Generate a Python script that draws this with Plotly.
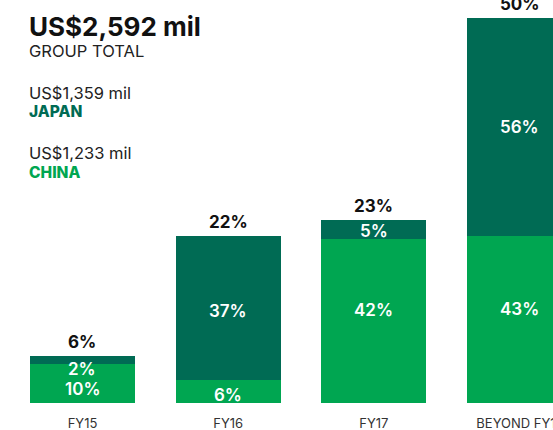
import plotly.graph_objects as go

categories = ["FY15", "FY16", "FY17", "BEYOND FY17"]
china_values = [39, 23, 164, 167]
japan_values = [8, 144, 19, 218]
china_labels = ["10%", "6%", "42%", "43%"]
japan_labels = ["2%", "37%", "5%", "56%"]
total_labels = ["6%", "22%", "23%", "50%"]

group_total = "US$2,592 mil"
japan_total = "US$1,359 mil"
china_total = "US$1,233 mil"

DARK = "#006B54"
LIGHT = "#00A651"
FONT = "Inter"

W, H = 553, 430
PLOT_H = 403

fig = go.Figure()
fig.add_trace(go.Bar(x=list(range(len(categories))), y=china_values, marker=dict(color=LIGHT, line=dict(width=0)),
                     name="China", hoverinfo="skip"))
fig.add_trace(go.Bar(x=list(range(len(categories))), y=japan_values, marker=dict(color=DARK, line=dict(width=0)),
                     name="Japan", hoverinfo="skip"))

ann = []
# per-label vertical nudges (pixels) to match original label placement
china_shift = [-5, -3, 11, 11]
japan_shift = [-9, -3, -1, 0]
for i in range(len(categories)):
    c, j = china_values[i], japan_values[i]
    ann.append(dict(x=i, y=c / 2, text=china_labels[i], showarrow=False, yshift=china_shift[i],
                    font=dict(family=FONT, size=17, color="white", weight=600)))
    ann.append(dict(x=i, y=c + j / 2, text=japan_labels[i], showarrow=False, yshift=japan_shift[i],
                    font=dict(family=FONT, size=17, color="white", weight=600)))
    ann.append(dict(x=i, y=c + j, text=total_labels[i], showarrow=False, yanchor="bottom", yshift=2,
                    font=dict(family=FONT, size=17, color="#111111", weight=700)))


def px(x):
    return x / W


def py(y):
    return 1 - y / PLOT_H


header = [
    (group_total, 27, 26, "#111111", 700),
    ("GROUP TOTAL", 51, 16.5, "#222222", 400),
    (japan_total, 93, 16.5, "#222222", 400),
    ("JAPAN", 112, 15.5, DARK, 800),
    (china_total, 153, 16.5, "#222222", 400),
    ("CHINA", 172, 15.5, LIGHT, 800),
]
for text, ycen, size, color, weight in header:
    ann.append(dict(xref="paper", yref="paper", x=px(27), y=py(ycen), xanchor="left", yanchor="middle",
                    text=text, showarrow=False,
                    font=dict(family=FONT, size=size, color=color, weight=weight)))

fig.update_layout(
    width=W, height=H,
    margin=dict(l=0, r=0, t=0, b=H - PLOT_H, autoexpand=False),
    barmode="stack", bargap=0.28,
    plot_bgcolor="white", paper_bgcolor="white",
    showlegend=False,
    annotations=ann,
    xaxis=dict(range=[-0.566, 3.229], tickmode="array", tickvals=list(range(len(categories))),
               ticktext=categories, showgrid=False, zeroline=False, showline=False,
               ticks="outside", ticklen=8, tickcolor="rgba(0,0,0,0)", ticklabeloverflow="allow",
               tickfont=dict(family=FONT, size=13, color="#333333"), automargin=False, fixedrange=True),
    yaxis=dict(range=[0, PLOT_H], visible=False, fixedrange=True),
)

fig.write_html("out.html", config={"displayModeBar": False},
               post_script="document.body.style.margin='0';document.body.style.overflow='hidden';")
